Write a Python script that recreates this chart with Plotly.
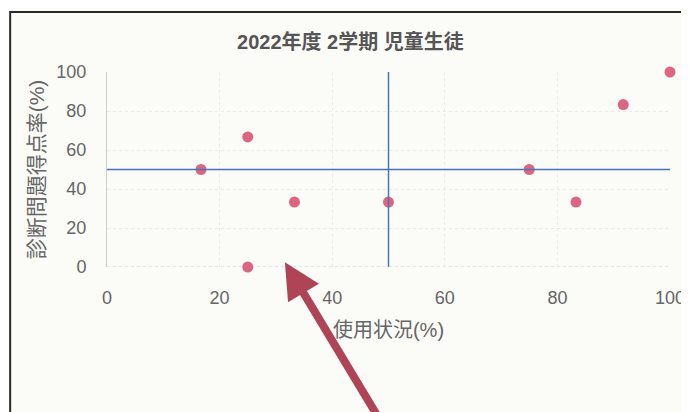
import plotly.graph_objects as go

title_text = "2022年度 2学期 児童生徒"
x_title = "使用状況(%)"
y_title = "診断問題得点率(%)"

usage = [16.7, 25, 25, 33.3, 50, 75, 83.3, 91.7, 100]
score = [50, 66.7, 0, 33.3, 33.3, 50, 33.3, 83.3, 100]
tick_vals = [0, 20, 40, 60, 80, 100]
mid_x = 50
mid_y = 50

font_family = "Liberation Sans, Noto Sans CJK JP, sans-serif"

fig = go.Figure()
fig.add_trace(go.Scatter(
    x=usage, y=score, mode="markers",
    marker=dict(size=11, color="#dc6681"),
    cliponaxis=False, showlegend=False,
))

fig.add_shape(type="line", xref="x", yref="y", x0=0, x1=100, y0=0, y1=0,
              line=dict(color="#d0d0d0", width=1, dash="dot"), layer="below")
fig.add_shape(type="line", xref="x", yref="y", x0=mid_x, x1=mid_x, y0=0, y1=100,
              line=dict(color="#4a74b4", width=1.5))
fig.add_shape(type="line", xref="x", yref="y", x0=0, x1=100, y0=mid_y, y1=mid_y,
              line=dict(color="#4a74b4", width=1.5))
# frame of scanned sheet
fig.add_shape(type="rect", xref="paper", yref="paper", x0=-0.172, x1=1.2, y0=-1.0, y1=1.308,
              line=dict(color="#2a2a2a", width=2), layer="below")

fig.add_annotation(x=31.6, y=2.5, xref="x", yref="y", ax=95, ay=158, axref="pixel", ayref="pixel",
                   showarrow=True, arrowhead=2, arrowsize=0.9, arrowwidth=8,
                   arrowcolor="#b04457", text="")

fig.update_layout(
    width=689, height=412,
    margin=dict(l=99, r=25, t=64, b=153),
    paper_bgcolor="#fbfbf8", plot_bgcolor="#fbfbf8",
    font=dict(family=font_family, color="#666666", size=18),
    title=dict(text="<b>" + title_text + "</b>", x=0.497, xref="container", xanchor="center",
               y=0.917, yref="container", yanchor="middle",
               font=dict(size=20, color="#555555")),
)
fig.update_xaxes(range=[0, 100], tickvals=tick_vals, showgrid=True, gridcolor="#ebebe8",
                 griddash="dot", zeroline=False, showline=False,
                 ticks="outside", ticklen=14, tickcolor="rgba(0,0,0,0)",
                 title=dict(text=x_title, standoff=16, font=dict(size=20, color="#666666")))
fig.update_yaxes(range=[0, 100], tickvals=tick_vals, showgrid=True, gridcolor="#ebebe8",
                 griddash="dot", zeroline=False, showline=True, linecolor="#cfcfcf",
                 ticks="outside", ticklen=16, tickcolor="rgba(0,0,0,0)",
                 title=dict(text=y_title, standoff=6, font=dict(size=21, color="#666666")))

fig.write_html("out.html")
